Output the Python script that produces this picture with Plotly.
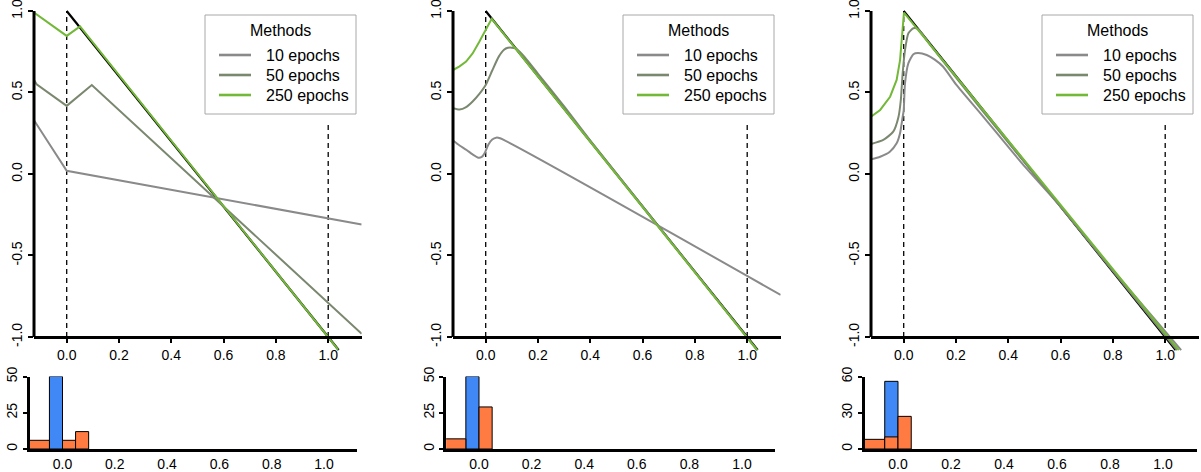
import plotly.graph_objects as go

W, H = 1201, 472
FONT = "Liberation Sans, Arial, Helvetica, sans-serif"

# ---------------- data ----------------
legend_title = "Methods"
methods = ["10 epochs", "50 epochs", "250 epochs"]
method_colors = ["#8a8a8a", "#7b8870", "#73b838"]

# reference line y = 1 - 2x (black)
ref_x = [0.0, 1.04]
ref_y = [1.0, -1.08]

# Panel 1
p1_x10 = [-0.125, 0.0, 1.128]
p1_y10 = [0.33, 0.02, -0.31]
p1_x50 = [-0.125, -0.115, 0.0, 0.096, 1.128]
p1_y50 = [0.577, 0.55, 0.418, 0.546, -0.98]
p1_x250 = [-0.125, 0.0, 0.051, 1.038]
p1_y250 = [0.99, 0.847, 0.905, -1.077]

# Panel 2
p2_x10 = [-0.125, -0.1, -0.073, -0.05, -0.028, -0.015, -0.005, 0.01, 0.025, 0.04, 0.055, 1.128]
p2_y10 = [0.205, 0.175, 0.147, 0.12, 0.1, 0.105, 0.125, 0.18, 0.212, 0.223, 0.219, -0.742]
p2_x50 = [-0.125, -0.1, -0.075, -0.05, -0.025, 0.0, 0.025, 0.05, 0.07, 0.085, 0.1, 0.115,
          0.13, 0.15, 0.2, 0.3, 0.4, 1.038]
p2_y50 = [0.403, 0.395, 0.41, 0.445, 0.49, 0.546, 0.635, 0.72, 0.762, 0.774, 0.775, 0.77,
          0.75, 0.715, 0.615, 0.415, 0.205, -1.08]
p2_x250 = [-0.125, -0.1, -0.075, -0.05, -0.025, 0.0, 0.023, 1.038]
p2_y250 = [0.638, 0.66, 0.69, 0.74, 0.81, 0.885, 0.952, -1.08]

# Panel 3
p3_x10 = [-0.125, -0.09, -0.053, -0.027, -0.014, -0.004, 0.0, 0.005, 0.018, 0.037, 0.055,
          0.088, 0.12, 0.151, 0.2, 0.3, 0.45, 0.6, 0.8, 1.061]
p3_y10 = [0.09, 0.106, 0.137, 0.188, 0.25, 0.35, 0.39, 0.556, 0.68, 0.735, 0.742,
          0.73, 0.70, 0.658, 0.55, 0.36, 0.07, -0.2, -0.59, -1.08]
p3_x50 = [-0.125, -0.078, -0.04, -0.02, -0.011, -0.004, 0.005, 0.018, 0.037, 0.056, 0.1,
          0.3, 0.6, 1.045]
p3_y50 = [0.184, 0.209, 0.26, 0.35, 0.454, 0.618, 0.76, 0.863, 0.894, 0.888, 0.795,
          0.39, -0.2, -1.08]
p3_x250 = [-0.125, -0.09, -0.052, -0.027, -0.014, -0.005, 0.001, 0.03, 1.052]
p3_y250 = [0.352, 0.393, 0.474, 0.577, 0.699, 0.863, 0.99, 0.933, -1.08]

panels = [
    [(p1_x10, p1_y10), (p1_x50, p1_y50), (p1_x250, p1_y250)],
    [(p2_x10, p2_y10), (p2_x50, p2_y50), (p2_x250, p2_y250)],
    [(p3_x10, p3_y10), (p3_x50, p3_y50), (p3_x250, p3_y250)],
]
panel_smooth = [False, True, True]

# Histograms (bin edges and counts)
h1_blue_left, h1_blue_right, h1_blue_count = [-0.05], [0.0], [50]
h1_orange_left = [-0.15, 0.0, 0.05]
h1_orange_right = [-0.05, 0.05, 0.1]
h1_orange_count = [6, 6, 12]

h2_blue_left, h2_blue_right, h2_blue_count = [-0.05], [0.0], [50]
h2_orange_left = [-0.15, 0.0]
h2_orange_right = [-0.05, 0.05]
h2_orange_count = [7, 29]

h3_blue_left, h3_blue_right, h3_blue_count = [-0.05], [0.0], [56]
h3_orange_left = [-0.15, -0.05, 0.0]
h3_orange_right = [-0.05, 0.0, 0.05]
h3_orange_count = [8, 10, 27]

hists = [
    (h1_blue_left, h1_blue_right, h1_blue_count, h1_orange_left, h1_orange_right, h1_orange_count),
    (h2_blue_left, h2_blue_right, h2_blue_count, h2_orange_left, h2_orange_right, h2_orange_count),
    (h3_blue_left, h3_blue_right, h3_blue_count, h3_orange_left, h3_orange_right, h3_orange_count),
]
hist_ymax = [50, 50, 60]
hist_yticks = [[0, 25, 50], [0, 25, 50], [0, 30, 60]]

x_ticks = [0.0, 0.2, 0.4, 0.6, 0.8, 1.0]
x_ticktext = ["0.0", "0.2", "0.4", "0.6", "0.8", "1.0"]
y_ticks = [-1.0, -0.5, 0.0, 0.5, 1.0]
y_ticktext = ["-1.0", "-0.5", "0.0", "0.5", "1.0"]
vline_zero = (0.0, -1.0, 1.0)
vline_one = (1.0, -1.0, 0.3)

# ---------------- layout geometry (pixels) ----------------
XR = [-0.125, 1.128]
YR = [-1.1, 1.015]
main_x0 = [66.7, 485.7, 903.7]
main_unit = 261.5
y_top_px, y_bot_px = 11.0, 337.0          # pixel rows of +1 and -1
y_unit = (y_bot_px - y_top_px) / 2.0
dom_top_px = y_top_px - (YR[1] - 1.0) * y_unit
dom_bot_px = y_bot_px + (-1.0 - YR[0]) * y_unit

HR = [-0.125, 1.127]
hist_x0 = [62.5, 479.0, 898.0]
hist_unit = [261.5, 263.0, 265.0]
hist_top_px, hist_bot_px = 376.5, 449.0

legend_left_px = [205, 623, 1042]
legend_top_px = 15
legend_w, legend_h = 151, 99


def fx(px):
    return px / W


def fy(py):
    return 1 - py / H


fig = go.Figure()
layout = dict(
    width=W, height=H, margin=dict(l=0, r=0, t=0, b=0, pad=0), autosize=False,
    paper_bgcolor="white", plot_bgcolor="rgba(0,0,0,0)",
    font=dict(family=FONT, size=14, color="black"),
    barmode="overlay", showlegend=False, hovermode=False,
)
shapes = []
annotations = []

for i in range(3):
    n = i + 1
    xa = "x" if n == 1 else f"x{n}"
    ya = "y" if n == 1 else f"y{n}"

    fig.add_trace(go.Scatter(x=ref_x, y=ref_y, mode="lines", xaxis=xa, yaxis=ya,
                             line=dict(color="black", width=2.2), showlegend=False,
                             hoverinfo="skip"))
    for (xs, ys), name, col in zip(panels[i], methods, method_colors):
        line = dict(color=col, width=2)
        if panel_smooth[i] and name != methods[2]:
            line.update(shape="spline", smoothing=0.6)
        fig.add_trace(go.Scatter(x=xs, y=ys, mode="lines", name=name, xaxis=xa, yaxis=ya,
                                 line=line, showlegend=False))

    xl = main_x0[i] + XR[0] * main_unit
    xr = main_x0[i] + XR[1] * main_unit
    layout["xaxis" if n == 1 else f"xaxis{n}"] = dict(
        domain=[fx(xl), fx(xr)], range=XR, anchor="free", position=fy(y_bot_px),
        showline=True, linecolor="black", linewidth=3, ticks="outside", ticklen=4,
        tickwidth=2, tickcolor="black", tickvals=x_ticks, ticktext=x_ticktext,
        showgrid=False, zeroline=False, tickfont=dict(size=14), automargin=False,
        ticklabeloverflow="allow",
    )
    layout["yaxis" if n == 1 else f"yaxis{n}"] = dict(
        domain=[fy(dom_bot_px), fy(dom_top_px)], range=YR, anchor=xa,
        showline=False, ticks="outside", ticklen=5, tickwidth=2, tickcolor="black",
        tickvals=y_ticks, ticktext=y_ticktext, tickangle=-90, showgrid=False,
        zeroline=False, tickfont=dict(size=14), automargin=False,
        ticklabeloverflow="allow",
    )
    shapes.append(dict(type="line", xref="paper", yref="paper", x0=fx(xl), x1=fx(xl),
                       y0=fy(y_bot_px), y1=fy(y_top_px), line=dict(color="black", width=3)))
    for vx, v0, v1 in (vline_zero, vline_one):
        shapes.append(dict(type="line", xref=xa, yref=ya, x0=vx, x1=vx, y0=v0, y1=v1,
                           layer="below", line=dict(color="black", width=1.3, dash="5px,4px")))

    # legend box (drawn as shapes + text annotations)
    L, T = legend_left_px[i], legend_top_px
    shapes.append(dict(type="rect", xref="paper", yref="paper", x0=fx(L), x1=fx(L + legend_w),
                       y0=fy(T + legend_h), y1=fy(T), fillcolor="white",
                       line=dict(color="#a8a8a8", width=1)))
    annotations.append(dict(text=legend_title, xref="paper", yref="paper",
                            x=fx(L + legend_w / 2), y=fy(T + 15), xanchor="center",
                            yanchor="middle", showarrow=False, font=dict(size=16)))
    for k, (name, col) in enumerate(zip(methods, method_colors)):
        yy = T + 40 + 20 * k
        shapes.append(dict(type="line", xref="paper", yref="paper", x0=fx(L + 14),
                           x1=fx(L + 46), y0=fy(yy), y1=fy(yy), line=dict(color=col, width=2.6)))
        annotations.append(dict(text=name, xref="paper", yref="paper", x=fx(L + 59), y=fy(yy),
                                xanchor="left", yanchor="middle", showarrow=False,
                                font=dict(size=16)))

    # histogram
    hn = n + 3
    hxa, hya = f"x{hn}", f"y{hn}"
    bl, br, bc, ol, orr, oc = hists[i]
    fig.add_trace(go.Bar(x=[(a + b) / 2 for a, b in zip(bl, br)], y=bc,
                         width=[b - a for a, b in zip(bl, br)], xaxis=hxa, yaxis=hya,
                         marker=dict(color="#3f88f5", line=dict(color="black", width=1)),
                         showlegend=False))
    fig.add_trace(go.Bar(x=[(a + b) / 2 for a, b in zip(ol, orr)], y=oc,
                         width=[b - a for a, b in zip(ol, orr)], xaxis=hxa, yaxis=hya,
                         marker=dict(color="#ff7b42", line=dict(color="black", width=1)),
                         showlegend=False))
    hxl = hist_x0[i] + HR[0] * hist_unit[i]
    hxr = hist_x0[i] + HR[1] * hist_unit[i]
    layout[f"xaxis{hn}"] = dict(
        domain=[fx(hxl), fx(hxr)], range=HR, anchor=hya, showline=True, linecolor="black",
        linewidth=3, ticks="", tickvals=x_ticks, ticktext=x_ticktext, showgrid=False,
        zeroline=False, tickfont=dict(size=14), automargin=False, ticklabeloverflow="allow",
    )
    layout[f"yaxis{hn}"] = dict(
        domain=[fy(hist_bot_px), fy(hist_top_px)], range=[0, hist_ymax[i]], anchor=hxa,
        showline=True, linecolor="black", linewidth=3, ticks="outside", ticklen=4,
        tickwidth=2, tickcolor="black", tickvals=hist_yticks[i],
        ticktext=[str(t) for t in hist_yticks[i]], tickangle=-90, showgrid=False,
        zeroline=False, tickfont=dict(size=14), automargin=False, ticklabeloverflow="allow",
    )

layout["shapes"] = shapes
layout["annotations"] = annotations
fig.update_layout(**layout)
fig.write_html("out.html", config={"displayModeBar": False, "staticPlot": True},
               post_script="document.body.style.margin='0px';")
